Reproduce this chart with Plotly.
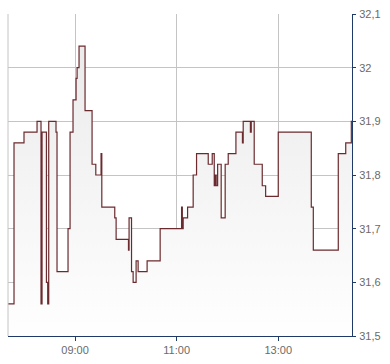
import plotly.graph_objects as go

day = "2024-01-15"
times = [
    "07:40:48", "07:47:54", "07:59:42", "08:15:06", "08:19:48", "08:21:00",
    "08:26:12", "08:27:42", "08:28:54", "08:37:30", "08:38:42", "08:51:42",
    "08:54:06", "08:57:36", "09:01:12", "09:02:24", "09:04:42", "09:11:48",
    "09:20:06", "09:24:30", "09:30:42", "09:31:36", "09:46:54", "09:48:30",
    "10:03:06", "10:03:48", "10:06:42", "10:08:36", "10:12:06", "10:14:30",
    "10:25:06", "10:40:30", "11:05:48", "11:06:42", "11:07:42", "11:12:54",
    "11:19:30", "11:23:30", "11:37:18", "11:42:00", "11:44:24", "11:45:30",
    "11:46:42", "11:48:24", "11:52:36", "11:57:18", "12:00:54", "12:10:00",
    "12:17:42", "12:18:36", "12:27:06", "12:28:06", "12:31:36", "12:41:06",
    "12:45:06", "13:00:00", "13:39:00", "13:41:24", "14:10:54", "14:19:42",
    "14:26:18", "14:27:06",
]
prices = [
    31.56, 31.86, 31.88, 31.90, 31.56, 31.88,
    31.60, 31.56, 31.90, 31.88, 31.62, 31.70,
    31.88, 31.94, 31.98, 32.00, 32.04, 31.92,
    31.82, 31.80, 31.84, 31.74, 31.72, 31.68,
    31.66, 31.72, 31.62, 31.60, 31.64, 31.62,
    31.64, 31.70, 31.74, 31.70, 31.72, 31.74,
    31.80, 31.84, 31.82, 31.84, 31.78, 31.80,
    31.78, 31.82, 31.72, 31.82, 31.84, 31.88,
    31.86, 31.90, 31.88, 31.90, 31.82, 31.78,
    31.76, 31.88, 31.74, 31.66, 31.84, 31.86,
    31.90, 31.90,
]
x_ticks = ["09:00", "11:00", "13:00"]
y_min, y_max = 31.5, 32.1

xs = [f"{day} {t}" for t in times]

NAVY = "#1f3a68"
GRID = "#c4c4c4"
LABEL = "#6a6a6a"

fig = go.Figure()
fig.add_trace(go.Scatter(
    x=xs, y=prices, mode="lines", line=dict(color="#6b2a2e", width=1.2, shape="hv"),
    fill="tozeroy",
    fillgradient=dict(type="vertical", start=y_min, stop=y_max,
                      colorscale=[[0, "#ffffff"], [1, "#e9e9e9"]]),
    hoverinfo="skip", showlegend=False,
))

fig.add_shape(type="line", xref="paper", yref="paper", x0=0, x1=0, y0=0, y1=1,
              line=dict(color=GRID, width=1), layer="above")

fig.update_layout(
    width=390, height=364,
    margin=dict(l=8, r=38, t=11, b=24),
    paper_bgcolor="white", plot_bgcolor="white",
    separators=",.",
    font=dict(family="Liberation Sans, Arial, sans-serif", size=11, color=LABEL),
    xaxis=dict(
        range=[xs[0], xs[-1]],
        tickvals=[f"{day} {t}" for t in x_ticks], ticktext=x_ticks,
        showgrid=True, gridcolor=GRID, gridwidth=1,
        showline=True, linecolor=NAVY, linewidth=1,
        ticks="outside", ticklen=4, tickcolor=NAVY,
        zeroline=False,
    ),
    yaxis=dict(
        side="right", range=[y_min, y_max], dtick=0.1, tick0=31.5,
        showgrid=True, gridcolor=GRID, gridwidth=1,
        showline=True, linecolor=NAVY, linewidth=1,
        ticks="outside", ticklen=3, tickcolor=NAVY,
        zeroline=False, ticklabelstandoff=1,
    ),
)

fig.write_html("out.html")
